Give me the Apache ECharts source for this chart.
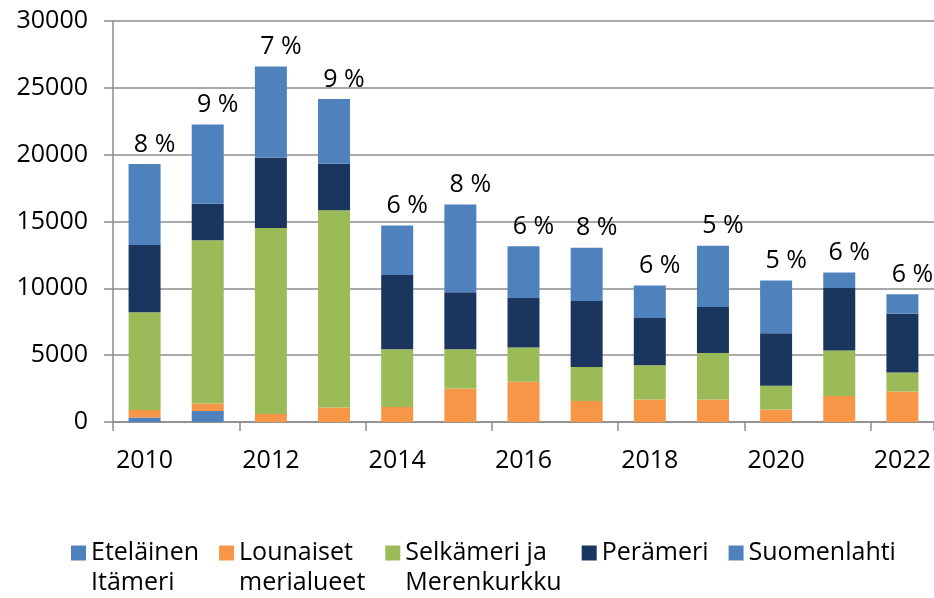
<!DOCTYPE html>
<html>
<head>
<meta charset="utf-8">
<script src="https://cdn.jsdelivr.net/npm/echarts@6/dist/echarts.min.js"></script>
<style>
  html, body { margin: 0; padding: 0; background: #fff; }
  #chart { width: 934px; height: 598px; }
</style>
</head>
<body>
<div id="chart"></div>
<script>
var years = ['2010', '2011', '2012', '2013', '2014', '2015', '2016', '2017', '2018', '2019', '2020', '2021', '2022']
var etelainen = [330, 820, 0, 0, 0, 0, 0, 0, 0, 0, 0, 0, 0]
var lounaiset = [570, 560, 600, 1080, 1120, 2500, 3020, 1570, 1680, 1680, 930, 1950, 2280]
var selkameri = [7310, 12220, 13920, 14770, 4320, 2940, 2550, 2550, 2560, 3490, 1790, 3390, 1420]
var peramer = [5040, 2720, 5240, 3470, 5560, 4270, 3710, 4940, 3540, 3440, 3920, 4690, 4390]
var suomenlahti = [6050, 5940, 6840, 4840, 3700, 6560, 3870, 3970, 2430, 4570, 3940, 1150, 1470]
var shares = ['8 %', '9 %', '7 %', '9 %', '6 %', '8 %', '6 %', '8 %', '6 %', '5 %', '5 %', '6 %', '6 %']
var names = ['Eteläinen\nItämeri', 'Lounaiset\nmerialueet', 'Selkämeri ja\nMerenkurkku', 'Perämeri', 'Suomenlahti']

var font = 'Open Sans'
var chart = echarts.init(document.getElementById('chart'))

function bar (name, data, color) {
  return {
    name: name,
    type: 'bar',
    stack: 'total',
    barWidth: 32,
    itemStyle: { color: color },
    data: data
  }
}

var series = [
  bar(names[0], etelainen, '#4F81BD'),
  bar(names[1], lounaiset, '#F79646'),
  bar(names[2], selkameri, '#9BBB59'),
  bar(names[3], peramer, '#1B365E'),
  bar(names[4], suomenlahti, '#4F81BD')
]
series[4].label = {
  show: true,
  position: 'top',
  distance: 7,
  offset: [10, 0],
  fontFamily: font,
  fontSize: 25,
  color: '#000',
  formatter: function (p) { return shares[p.dataIndex] }
}

chart.setOption({
  animation: false,
  textStyle: { fontFamily: font },
  grid: { left: 113, right: 0, top: 21, bottom: 176 },
  legend: {
    left: 66,
    top: 503,
    itemWidth: 15,
    itemHeight: 15,
    itemGap: 20,
    icon: 'rect',
    textStyle: { fontFamily: font, fontSize: 25, color: '#000', lineHeight: 30 },
    // multi-line names: a leading empty line keeps the first line level with the icon
    formatter: function (n) { return n.indexOf('\n') >= 0 ? '\n' + n : n },
    data: names
  },
  xAxis: {
    type: 'category',
    data: years,
    axisLine: { lineStyle: { color: '#8c8c8c', width: 1.5 } },
    axisTick: { show: true, length: 9, lineStyle: { color: '#8c8c8c', width: 1.5 } },
    axisLabel: { interval: 1, margin: 26, fontSize: 25, color: '#000', fontFamily: font }
  },
  yAxis: {
    type: 'value',
    min: 0,
    max: 30000,
    interval: 5000,
    axisLine: { show: true, lineStyle: { color: '#8c8c8c', width: 1.5 } },
    axisTick: { show: true, length: 9, lineStyle: { color: '#8c8c8c', width: 1.5 } },
    splitLine: { lineStyle: { color: '#8c8c8c', width: 1.5 } },
    axisLabel: { margin: 25, fontSize: 25, color: '#000', fontFamily: font, formatter: function (v) { return String(v) } }
  },
  series: series
})
</script>
</body>
</html>
